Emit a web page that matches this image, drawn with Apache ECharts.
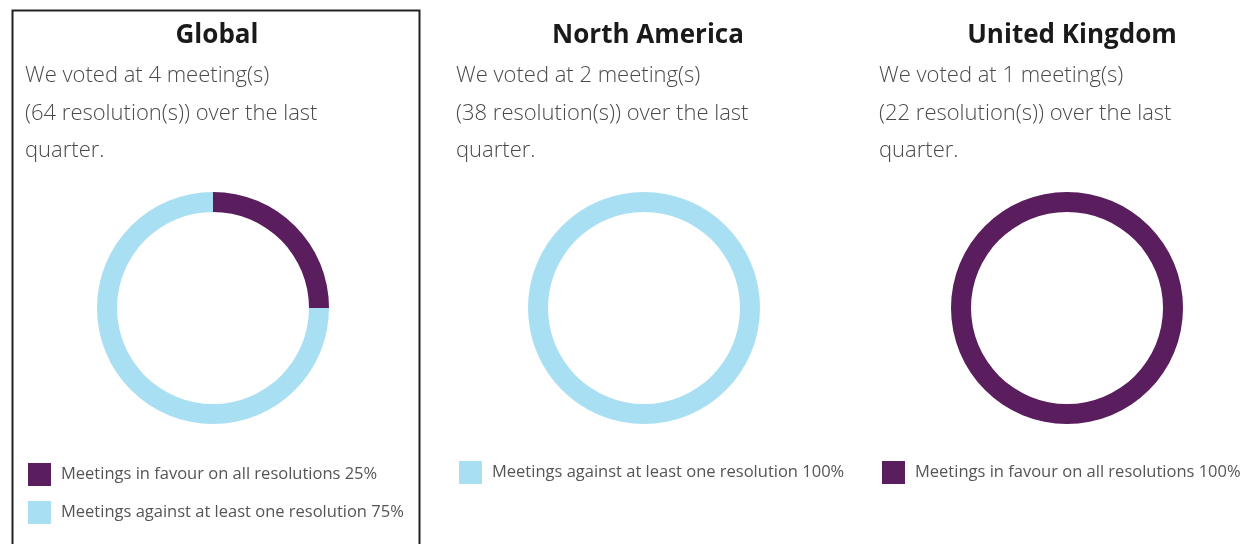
<!DOCTYPE html>
<html>
<head>
<meta charset="utf-8">
<script src="https://cdn.jsdelivr.net/npm/echarts@6/dist/echarts.min.js"></script>
<style>
html,body{margin:0;padding:0;background:#fff;}
#chart{width:1250px;height:544px;}
</style>
</head>
<body>
<div id="chart"></div>
<script>
// ---- data ----
const regions = ['Global', 'North America', 'United Kingdom'];
const meetings = [4, 2, 1];
const resolutions = [64, 38, 22];
const categories = ['Meetings in favour on all resolutions', 'Meetings against at least one resolution'];
const favourPct = [25, 0, 100];
const againstPct = [75, 100, 0];

// ---- layout / style ----
const colors = ['#5a1e5e', '#a9dff3'];
const panelCenters = [213, 644, 1067];
const titleX = [217, 648, 1072];
const textX = [25, 456, 879];
const legendPos = [[28, 463], [459, 461], [882, 461]];
const FONT = '"Open Sans", Lato, sans-serif';

const chart = echarts.init(document.getElementById('chart'), null, {renderer: 'canvas'});

const series = [];
const legends = [];
const graphics = [];

graphics.push({
  type: 'rect', left: 10, top: 8, silent: true,
  shape: {x: 0, y: 0, width: 407, height: 560},
  style: {fill: 'none', stroke: '#222', lineWidth: 2}
});

regions.forEach((r, i) => {
  const vals = [favourPct[i], againstPct[i]];
  const data = [];
  vals.forEach((v, k) => {
    if (v > 0) data.push({name: categories[k] + ' ' + v + '%', value: v, itemStyle: {color: colors[k]}});
  });
  series.push({
    type: 'pie',
    radius: [96, 116],
    center: [panelCenters[i], 308],
    startAngle: 90,
    clockwise: true,
    silent: true,
    label: {show: false},
    labelLine: {show: false},
    itemStyle: {borderWidth: 0},
    emphasis: {disabled: true},
    data: data
  });
  legends.push({
    orient: 'vertical',
    left: legendPos[i][0],
    top: legendPos[i][1],
    padding: 0,
    itemGap: 15,
    itemWidth: 23,
    itemHeight: 23,
    icon: 'rect',
    selectedMode: false,
    data: data.map(d => d.name),
    textStyle: {fontFamily: FONT, fontSize: 16.5, color: '#555', padding: [7, 0, 0, 5]}
  });
  graphics.push({
    type: 'text', silent: true,
    style: {x: titleX[i], y: 36, text: r, align: 'center', verticalAlign: 'middle',
      font: 'bold 26px ' + FONT, fill: '#1a1a1a'}
  });
  const lines = ['We voted at ' + meetings[i] + ' meeting(s)',
                 '(' + resolutions[i] + ' resolution(s)) over the last',
                 'quarter.'];
  lines.forEach((t, j) => {
    graphics.push({
      type: 'text', silent: true,
      style: {x: textX[i], y: 76 + j * 37.5, text: t, align: 'left', verticalAlign: 'middle',
        font: '300 22px ' + FONT, fill: '#4a4a4a'}
    });
  });
});

chart.setOption({
  animation: false,
  backgroundColor: '#fff',
  legend: legends,
  series: series,
  graphic: graphics
});
</script>
</body>
</html>
